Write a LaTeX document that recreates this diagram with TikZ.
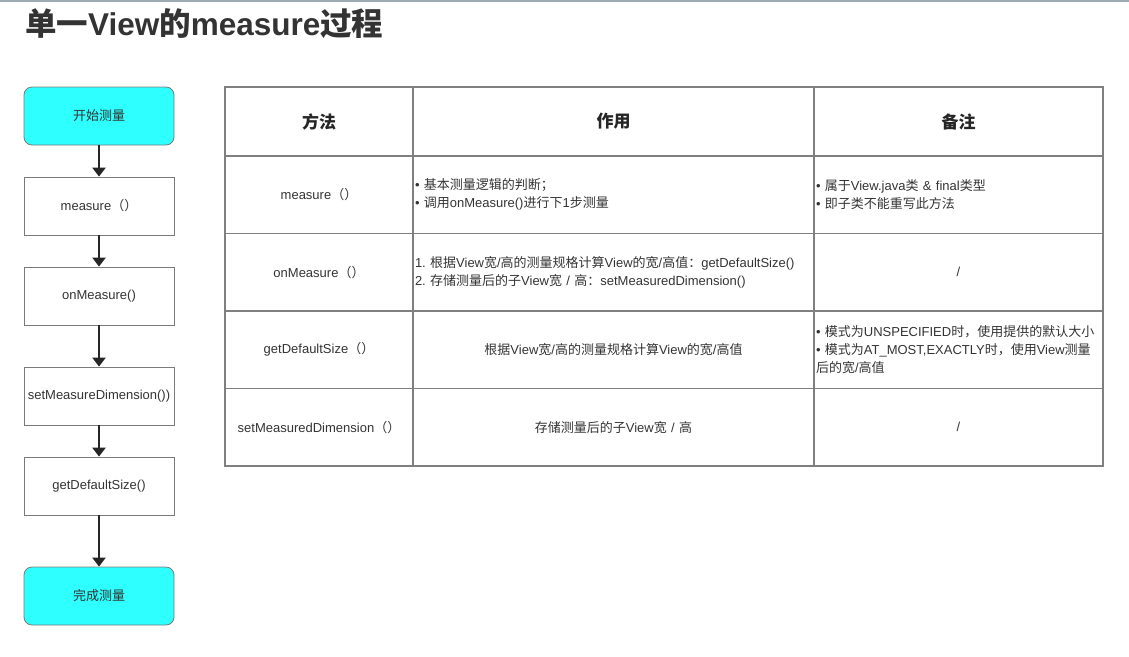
\documentclass[tikz,border=0pt]{standalone}
\usepackage{fontspec}
\setmainfont{Liberation Sans}
\newfontfamily\cjk{Noto Sans CJK SC}
\usetikzlibrary{arrows.meta}

% Han characters and full-width punctuation are set in the CJK font
\XeTeXinterchartokenstate=1
\newXeTeXintercharclass\hanclass
\count255="21
\loop\XeTeXcharclass\count255=0 \ifnum\count255<"7E \advance\count255 by 1 \repeat
\XeTeXcharclass"2022=0
\count255="4E00
\loop\XeTeXcharclass\count255=\hanclass \ifnum\count255<"9FFF \advance\count255 by 1 \repeat
\XeTeXcharclass"3001=\hanclass
\XeTeXcharclass"3002=\hanclass
\XeTeXcharclass"FF08=\hanclass
\XeTeXcharclass"FF09=\hanclass
\XeTeXcharclass"FF0C=\hanclass
\XeTeXcharclass"FF1A=\hanclass
\XeTeXcharclass"FF1B=\hanclass
\XeTeXinterchartoks 0 \hanclass={\cjk}
\XeTeXinterchartoks 4095 \hanclass={\cjk}
\XeTeXinterchartoks \hanclass 0={\rmfamily}
\XeTeXinterchartoks \hanclass 4095={\rmfamily}

\definecolor{flowcyan}{HTML}{2EFFFF}
\definecolor{flowline}{HTML}{7A7A7A}
\definecolor{gridgray}{HTML}{7F7F7F}
\definecolor{ink}{HTML}{333333}
\definecolor{topline}{HTML}{9DACB4}
\newcommand{\bul}{\textbullet\ }
\frenchspacing

\begin{document}
\begin{tikzpicture}[
    x=1pt,y=-1pt,
    font=\fontsize{13}{18}\selectfont,
    flow/.style={rectangle,draw=flowline,fill=white,line width=0.8pt,
        minimum width=150pt,minimum height=58pt,inner sep=2pt,text=ink},
    term/.style={flow,fill=flowcyan,rounded corners=8pt},
    cell/.style={rectangle,draw=gridgray,line width=1.6pt,inner xsep=2pt,
        minimum height=77.5pt,text=ink,align=center},
    head/.style={cell,minimum height=69pt,text=black!85,
        font=\fontsize{17}{20}\selectfont\bfseries},
    colA/.style={minimum width=188pt,text width=184pt},
    colB/.style={minimum width=401pt,text width=397pt},
    colC/.style={minimum width=289pt,text width=285pt},
    arrow/.style={draw=black!85,line width=2.5pt,-{Triangle[width=13pt,length=9pt]}}
]
\useasboundingbox (0,0) rectangle (1129,656);
\draw[topline,line width=1.5pt] (0,0.75) -- (1129,0.75);
\node[anchor=west,inner sep=0pt,text=ink,
    font=\fontsize{31.5}{36}\selectfont\bfseries] (title) at (25,24) {单一View的measure过程};

% flow of one measure pass
\node[term] (start) at (99,116) {开始测量};
\node[flow] (measure) at (99,206) {measure（）};
\node[flow] (onmeasure) at (99,296) {onMeasure()};
\node[flow] (setdim) at (99,396) {setMeasureDimension())};
\node[flow] (getsize) at (99,486) {getDefaultSize()};
\node[term] (finish) at (99,596) {完成测量};
\draw[arrow] (start) -- (measure);
\draw[arrow] (measure) -- (onmeasure);
\draw[arrow] (onmeasure) -- (setdim);
\draw[arrow] (setdim) -- (getsize);
\draw[arrow] (getsize) -- (finish);

% table of methods
\node[head,colA] (hmethod) at (319,121.5) {方法};
\node[head,colB] (hrole) at (613.5,121.5) {作用};
\node[head,colC] (hnote) at (958.5,121.5) {备注};

\node[cell,colA] (m1) at (319,194.75) {measure（）};
\node[cell,colB,align=left] (r1) at (613.5,194.75) {\bul 基本测量逻辑的判断；\\\bul 调用onMeasure()进行下1步测量};
\node[cell,colC,align=left] (n1) at (958.5,194.75) {\bul 属于View.java类 \& final类型\\\bul 即子类不能重写此方法};

\node[cell,colA] (m2) at (319,272.25) {onMeasure（）};
\node[cell,colB,align=left] (r2) at (613.5,272.25) {1. 根据View宽/高的测量规格计算View的宽/高值：getDefaultSize()\\2. 存储测量后的子View宽 / 高：setMeasuredDimension()};
\node[cell,colC] (n2) at (958.5,272.25) {/};

\node[cell,colA] (m3) at (319,349.75) {getDefaultSize（）};
\node[cell,colB] (r3) at (613.5,349.75) {根据View宽/高的测量规格计算View的宽/高值};
\node[cell,colC,align=left] (n3) at (958.5,349.75) {\bul 模式为UNSPECIFIED时，使用提供的默认大小\\\bul 模式为AT\_MOST,EXACTLY时，使用View测量\\后的宽/高值};

\node[cell,colA] (m4) at (319,427.25) {setMeasuredDimension（）};
\node[cell,colB] (r4) at (613.5,427.25) {存储测量后的子View宽 / 高};
\node[cell,colC] (n4) at (958.5,427.25) {/};
\end{tikzpicture}
\end{document}
